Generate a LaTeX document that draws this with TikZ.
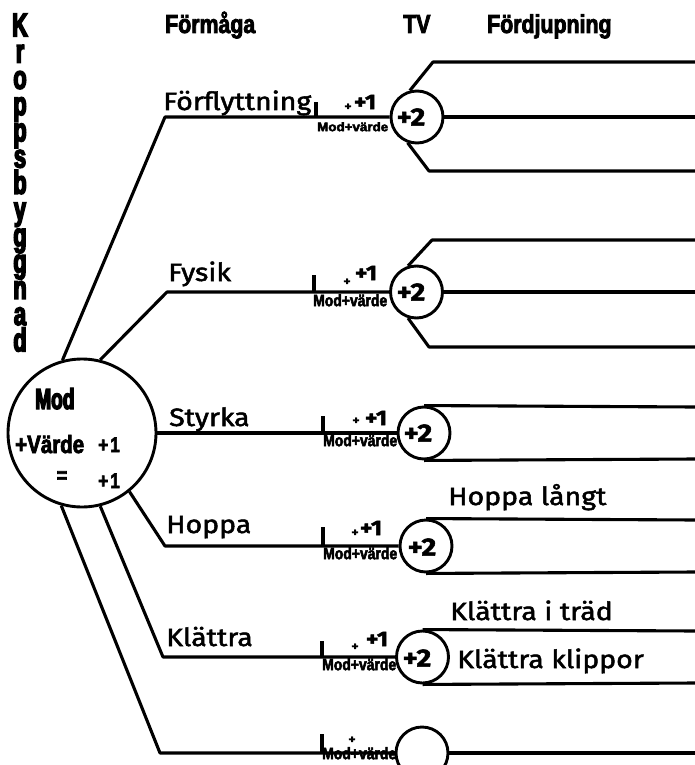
\documentclass[tikz,border=0pt]{standalone}
\usepackage{fontspec}
\usepackage{graphicx}
\newfontfamily\imp{Liberation Sans}[FakeStretch=0.82, BoldFeatures={FakeBold=3}]
\newfontfamily\impn{Liberation Sans}[FakeStretch=0.66, BoldFeatures={FakeBold=4.5}]
\newfontfamily\comic{Fira Sans}[FakeStretch=1.14, FakeBold=2]
\newcommand{\mvlabel}[2]{\resizebox{#1}{#2}{\imp\bfseries Mod+värde}}
\tikzset{
  ln/.style={line width=3.1pt, line join=round},
  bigc/.style={circle, draw, line width=2.9pt, minimum size=148pt, inner sep=0pt},
  tvc/.style={circle, draw, line width=2.9pt, minimum size=52pt, inner sep=0pt},
  head/.style={font=\imp\bfseries\fontsize{26}{26}\selectfont, inner sep=0pt, anchor=base west},
  vcol/.style={font=\impn\bfseries\fontsize{33}{26.25}\selectfont, inner sep=0pt, align=center, anchor=north},
  skill/.style={font=\comic\fontsize{25}{25}\selectfont, inner sep=0pt, anchor=base west},
  deep/.style={font=\comic\fontsize{25}{25}\selectfont, inner sep=0pt, anchor=base west},
  plusone/.style={font=\comic\bfseries\fontsize{21}{21}\selectfont, inner sep=0pt},
  plussmall/.style={font=\comic\bfseries\fontsize{12}{12}\selectfont, inner sep=0pt},
  plustwo/.style={font=\comic\bfseries\fontsize{25}{25}\selectfont, inner sep=0pt},
  mv/.style={inner sep=0pt, anchor=north west},
  modtxt/.style={font=\imp\bfseries\fontsize{25}{25}\selectfont, inner sep=0pt}
}
\begin{document}
\begin{tikzpicture}[x=1pt,y=-1pt]
\useasboundingbox (0,0) rectangle (695,765);
\clip (0,0) rectangle (695,765);

% headings
\node[head] (hf) at (165,33) {Förmåga};
\node[head] (htv) at (403,33) {TV};
\node[head] (hd) at (487,33) {Fördjupning};

% vertical title, one letter per line
\node[vcol] (vt) at (20,13.4) {K\\r\\o\\p\\p\\s\\b\\y\\g\\g\\n\\a\\d};

% central circle
\node[bigc] (main) at (82,433) {};
\node[font=\impn\bfseries\fontsize{29}{29}\selectfont, inner sep=0pt, anchor=base west] (mod) at (35,409) {Mod};
\node[modtxt, anchor=base west] (varde) at (15,453) {+Värde};
\node[font=\imp\bfseries\fontsize{21}{21}\selectfont, inner sep=0pt, anchor=base west] (p1a) at (98,452) {+\kern2pt1};
\node[font=\imp\bfseries\fontsize{22}{22}\selectfont, inner sep=0pt] (eq) at (62,477) {=};
\node[font=\imp\bfseries\fontsize{21}{21}\selectfont, inner sep=0pt, anchor=base west] (p1b) at (98,488) {+\kern2pt1};

% TV circles
\node[tvc] (c1) at (417,117) {};
\node[tvc] (c2) at (416.5,292) {};
\node[tvc] (c3) at (424,433) {};
\node[tvc] (c4) at (426,546) {};
\node[tvc] (c5) at (422.5,657) {};
\node[tvc] (c6) at (422,753) {};
\node[plustwo] (n1) at (411,117) {+2};
\node[plustwo] (n2) at (411,292) {+2};
\node[plustwo] (n3) at (418,433) {+2};
\node[plustwo] (n4) at (422,547) {+2};
\node[plustwo] (n5) at (417,658) {+2};

% branch bends and ticks
\coordinate (b1) at (165,117);
\coordinate (b2) at (167,292);
\coordinate (b4) at (165,546);
\coordinate (b5) at (163,657);
\coordinate (b6) at (160,753);
\coordinate (t1) at (316,117);
\coordinate (t2) at (314,292);
\coordinate (t3) at (323,433);
\coordinate (t4) at (323,546);
\coordinate (t5) at (322,657);
\coordinate (t6) at (322,753);

% branches from the central circle to the TV circles
\draw[ln] (main.105) -- (b1) -- (c1.west);
\draw[ln] (main.76) -- (b2) -- (c2.west);
\draw[ln] (main.east) -- (c3.west);
\draw[ln] (main.-51) -- (b4) -- (c4.west);
\draw[ln] (main.-76) -- (b5) -- (c5.west);
\draw[ln] (main.-106) -- (b6) -- (c6.west);
\draw[ln] (t1) -- ++(0,-15);
\draw[ln] (t2) -- ++(0,-17);
\draw[ln] (t3) -- ++(0,-17);
\draw[ln] (t4) -- ++(0,-19);
\draw[ln] (t5) -- ++(0,-16);
\draw[ln] (t6) -- ++(0,-19);

% skill names
\node[skill] (s1) at (163,110) {Förflyttning};
\node[skill] (s2) at (168,281) {Fysik};
\node[skill] (s3) at (169,426) {Styrka};
\node[skill] (s4) at (166,533) {Hoppa};
\node[skill] (s5) at (166,646) {Klättra};

% value marks
\node[mv] (m1) at (317,122) {\mvlabel{71pt}{9pt}};
\node[mv] (m2) at (313,294) {\mvlabel{74pt}{12pt}};
\node[mv] (m3) at (323,434) {\mvlabel{74pt}{12pt}};
\node[mv] (m4) at (323,547) {\mvlabel{74pt}{12pt}};
\node[mv] (m5) at (322,658) {\mvlabel{74pt}{12pt}};
\node[mv] (m6) at (322,747) {\mvlabel{74pt}{12pt}};
\node[plussmall] (q1) at (348,107) {+};
\node[plussmall] (q2) at (347,282) {+};
\node[plussmall] (q3) at (356,421) {+};
\node[plussmall] (q4) at (355,533) {+};
\node[plussmall] (q5) at (355,647) {+};
\node[plussmall] (q6) at (352,740) {+};
\node[plusone] (o1) at (365,102) {+1};
\node[plusone] (o2) at (366,273) {+1};
\node[plusone] (o3) at (376,418) {+1};
\node[plusone] (o4) at (371,528) {+1};
\node[plusone] (o5) at (377,639) {+1};

% deepening lines
\coordinate (d1a) at (433,62);  \coordinate (r1a) at (695,62);
\coordinate (r1b) at (695,117);
\coordinate (d1c) at (429,171); \coordinate (r1c) at (695,171);
\coordinate (d2a) at (432,240); \coordinate (r2a) at (695,240);
\coordinate (r2b) at (695,292);
\coordinate (d2c) at (429,347); \coordinate (r2c) at (695,347);
\coordinate (r3a) at (695,407); \coordinate (r3c) at (695,459);
\coordinate (r4a) at (695,520); \coordinate (r4c) at (695,572);
\coordinate (r5a) at (695,631); \coordinate (r5c) at (695,683);
\coordinate (r6) at (695,753);
\draw[ln] (c1.105) -- (d1a) -- (r1a);
\draw[ln] (c1.east) -- (r1b);
\draw[ln] (c1.-110) -- (d1c) -- (r1c);
\draw[ln] (c2.108) -- (d2a) -- (r2a);
\draw[ln] (c2.east) -- (r2b);
\draw[ln] (c2.-108) -- (d2c) -- (r2c);
\draw[ln] (c3.north) -- (r3a);
\draw[ln] (c3.south) -- (r3c);
\draw[ln] (c4.north) -- (r4a);
\draw[ln] (c4.south) -- (r4c);
\draw[ln] (c5.north) -- (r5a);
\draw[ln] (c5.south) -- (r5c);
\draw[ln] (c6.east) -- (r6);

% deepening texts
\node[deep] (f1) at (448,505) {Hoppa långt};
\node[deep] (f2) at (450,620) {Klättra i träd};
\node[deep] (f3) at (457,668) {Klättra klippor};
\end{tikzpicture}
\end{document}
